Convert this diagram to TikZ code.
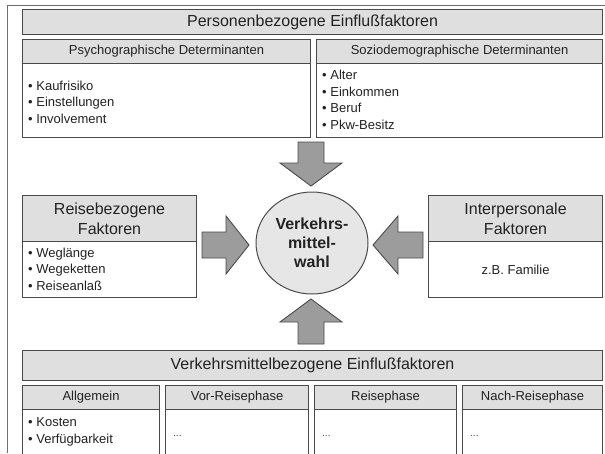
\documentclass[tikz,border=0pt]{standalone}
\usepackage{fontspec}
\setmainfont{Liberation Sans}
\usetikzlibrary{shapes.geometric}
\definecolor{edge}{HTML}{4A4A4A}
\definecolor{hdrfill}{HTML}{DFDFDF}
\definecolor{arrowfill}{HTML}{9C9C9C}
\definecolor{circfill}{HTML}{E6E6E6}
\definecolor{txt}{HTML}{222222}
\tikzset{
  boxline/.style={draw=edge, line width=1.1pt},
  hdrbox/.style={boxline, fill=hdrfill, inner sep=0pt, anchor=north west},
  bodybox/.style={boxline, fill=white, inner sep=0pt, anchor=north west},
  bigtxt/.style={font=\fontsize{16}{20}\selectfont, align=center, text=txt},
  subtxt/.style={font=\fontsize{13}{15}\selectfont, text=txt},
  listtxt/.style={font=\fontsize{13}{16.5}\selectfont, align=left, anchor=west, inner sep=0pt, text=txt},
  dotstxt/.style={font=\fontsize{10}{12}\selectfont, anchor=west, inner sep=0pt, text=edge},
  blockarrow/.style={draw=edge, line width=0.9pt, fill=arrowfill, line join=miter},
  frameline/.style={draw=edge!80, line width=1pt}
}
\begin{document}
\begin{tikzpicture}[x=1pt,y=-1pt]
\useasboundingbox (0,0) rectangle (605,453);
\fill[white] (0,0) rectangle (605,453);
% outer frame (cropped)
\coordinate (fa) at (7,453);
\coordinate (fb) at (7,5);
\coordinate (fc) at (605,5);
\draw[frameline] (fa) -- (fb) -- (fc);

% top header
\node[hdrbox, minimum width=580, minimum height=25] (ph) at (22,9) {};
\node[bigtxt] (pht) at (ph.center) {Personenbezogene Einflußfaktoren};

% psychographische
\node[bodybox, minimum width=288, minimum height=74] (psb) at (22,63) {};
\node[hdrbox, minimum width=288, minimum height=24] (psh) at (22,39) {};
\node[subtxt] (psht) at (psh.center) {Psychographische Determinanten};
\node[listtxt] (psl) at (28,102) {• Kaufrisiko\\• Einstellungen\\• Involvement};

% soziodemographische
\node[bodybox, minimum width=286, minimum height=74] (sob) at (316,63) {};
\node[hdrbox, minimum width=286, minimum height=24] (soh) at (316,39) {};
\node[subtxt] (soht) at (soh.center) {Soziodemographische Determinanten};
\node[listtxt] (sol) at (322,100) {• Alter\\• Einkommen\\• Beruf\\• Pkw-Besitz};

% left box
\node[bodybox, minimum width=174, minimum height=56] (rb) at (22,241) {};
\node[hdrbox, minimum width=174, minimum height=46] (rh) at (22,195) {};
\node[bigtxt] (rht) at (rh.center) {Reisebezogene\\Faktoren};
\node[listtxt] (rl) at (28,269) {• Weglänge\\• Wegeketten\\• Reiseanlaß};

% right box
\node[bodybox, minimum width=174, minimum height=56] (ib) at (428,241) {};
\node[hdrbox, minimum width=174, minimum height=46] (ih) at (428,195) {};
\node[bigtxt] (iht) at (ih.center) {Interpersonale\\Faktoren};
\node[subtxt] (ibt) at (ib.center) {z.B. Familie};

% centre
\node[ellipse, draw=edge, line width=1pt, fill=circfill, minimum width=112, minimum height=102, inner sep=0pt] (vm) at (312,243) {};
\node[font=\bfseries\fontsize{16}{19}\selectfont, align=center, text=txt] (vmt) at (vm.center) {Verkehrs-\\mittel-\\wahl};

% arrows
\draw[blockarrow] (298,142) -- (324,142) -- (324,163) -- (342,163) -- (311,186) -- (280,163) -- (298,163) -- cycle;
\draw[blockarrow] (298,344) -- (324,344) -- (324,322) -- (342,322) -- (311,299) -- (280,322) -- (298,322) -- cycle;
\draw[blockarrow] (202,232) -- (226,232) -- (226,216) -- (249,245) -- (226,274) -- (226,258) -- (202,258) -- cycle;
\draw[blockarrow] (423,232) -- (398,232) -- (398,216) -- (373,245) -- (398,274) -- (398,258) -- (423,258) -- cycle;

% bottom header
\node[hdrbox, minimum width=580, minimum height=30] (vh) at (22,350) {};
\node[bigtxt] (vht) at (vh.center) {Verkehrsmittelbezogene Einflußfaktoren};

% bottom boxes
\node[bodybox, minimum width=137, minimum height=60] (ab) at (22,409) {};
\node[hdrbox, minimum width=137, minimum height=24] (ah) at (22,385) {};
\node[subtxt] (aht) at (ah.center) {Allgemein};
\node[listtxt] (al) at (28,432) {• Kosten\\• Verfügbarkeit};

\node[bodybox, minimum width=143, minimum height=60] (vb) at (165,409) {};
\node[hdrbox, minimum width=143, minimum height=24] (vrh) at (165,385) {};
\node[subtxt] (vrht) at (vrh.center) {Vor-Reisephase};
\node[dotstxt] (vrl) at (173,436) {...};

\node[bodybox, minimum width=142, minimum height=60] (rpb) at (314,409) {};
\node[hdrbox, minimum width=142, minimum height=24] (rph) at (314,385) {};
\node[subtxt] (rpht) at (rph.center) {Reisephase};
\node[dotstxt] (rpl) at (322,436) {...};

\node[bodybox, minimum width=140, minimum height=60] (nb) at (462,409) {};
\node[hdrbox, minimum width=140, minimum height=24] (nh) at (462,385) {};
\node[subtxt] (nht) at (nh.center) {Nach-Reisephase};
\node[dotstxt] (nl) at (470,436) {...};
\end{tikzpicture}
\end{document}
